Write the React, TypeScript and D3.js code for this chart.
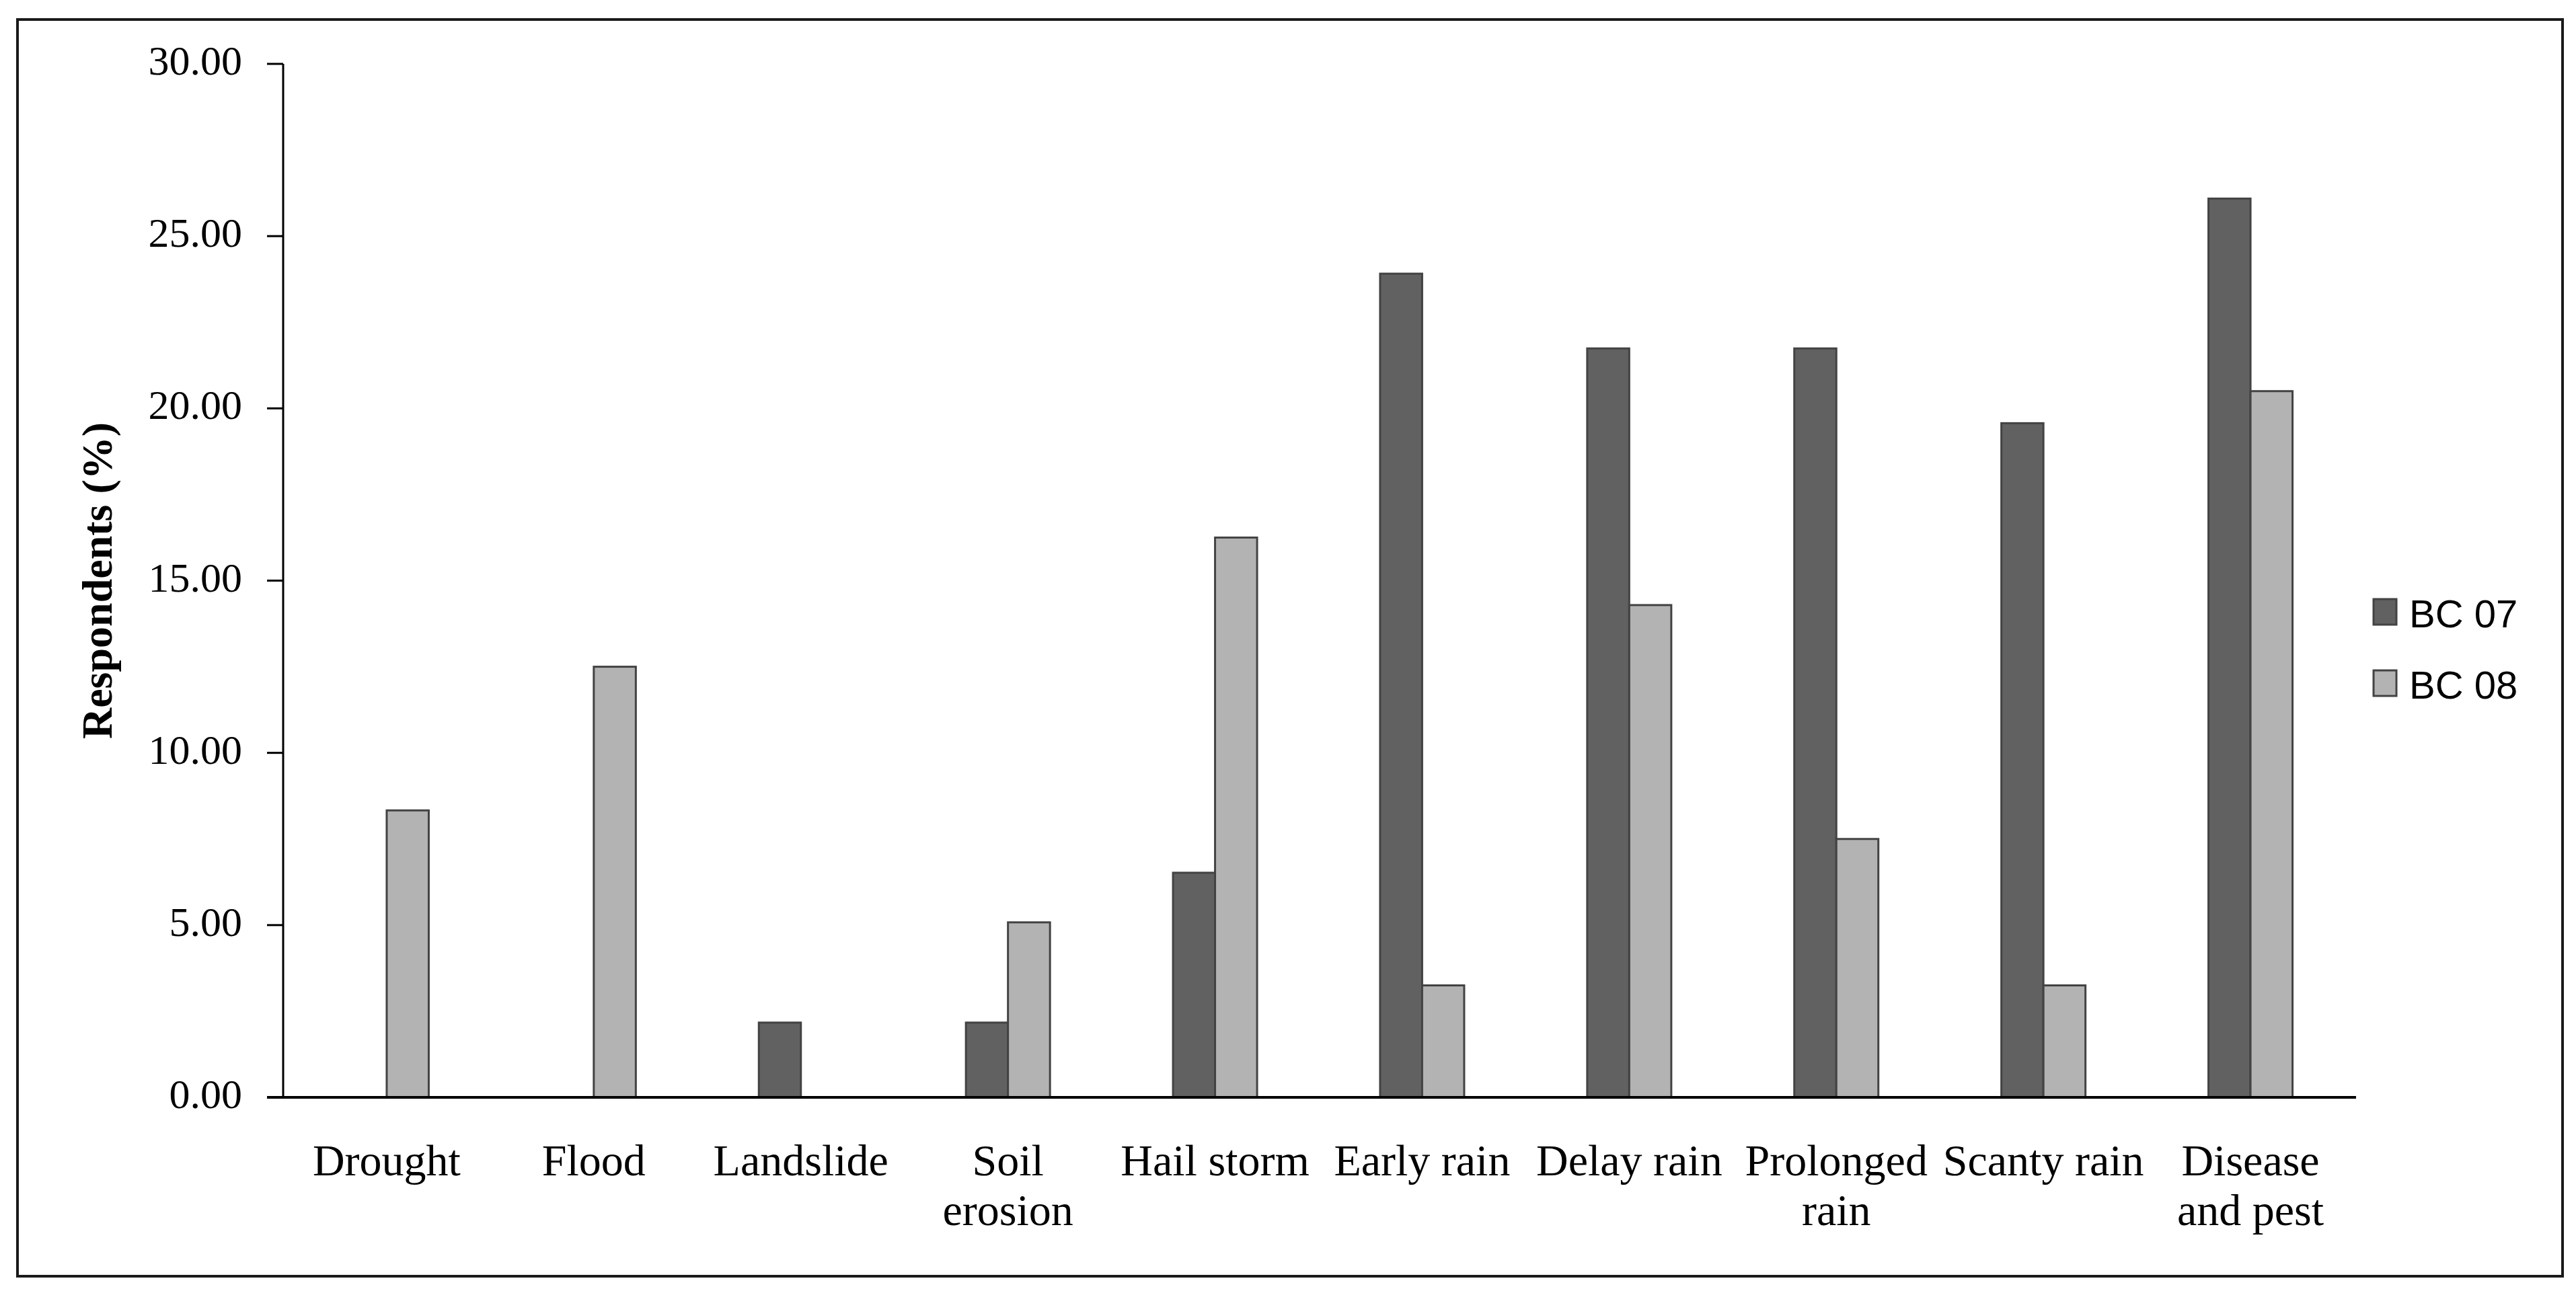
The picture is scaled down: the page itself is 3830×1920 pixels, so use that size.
import React from "react";
import * as d3 from "d3";

const categories = [
  ["Drought"],
  ["Flood"],
  ["Landslide"],
  ["Soil", "erosion"],
  ["Hail storm"],
  ["Early rain"],
  ["Delay rain"],
  ["Prolonged", "rain"],
  ["Scanty rain"],
  ["Disease", "and pest"],
];
const seriesNames = ["BC 07", "BC 08"];
const bc07 = [0, 0, 2.17, 2.17, 6.52, 23.91, 21.74, 21.74, 19.57, 26.09];
const bc08 = [8.33, 12.5, 0, 5.08, 16.25, 3.25, 14.29, 7.5, 3.25, 20.5];
const yTicks = [0, 5, 10, 15, 20, 25, 30];

const W = 3830;
const H = 1920;
const serif = "'Liberation Serif', 'Times New Roman', serif";
const sans = "'Liberation Sans', Arial, sans-serif";

export default function App() {
  const keys = categories.map((c) => c.join(" "));
  const x = d3.scaleBand<string>().domain(keys).range([421, 3500]).padding(0);
  const y = d3.scaleLinear().domain([0, 30]).range([1632, 95]);
  const bw = x.bandwidth() * 0.203;
  const colors = ["#616161", "#b3b3b3"];
  const series = [bc07, bc08];

  return (
    <svg
      width={W}
      height={H}
      viewBox={`0 0 ${W} ${H}`}
      style={{ position: "absolute", left: 0, top: 0, background: "#fff" }}
    >
      <rect x={0} y={0} width={W} height={H} fill="#fff" />
      <rect x={26} y={29} width={3784} height={1869} fill="none" stroke="#1a1a1a" strokeWidth={4} />

      {/* bars */}
      {series.map((vals, si) =>
        vals.map((v, i) => {
          if (v <= 0) return null;
          const cx = (x(keys[i]) as number) + x.bandwidth() / 2;
          const x0 = si === 0 ? cx - bw : cx;
          return (
            <rect
              key={`${si}-${i}`}
              x={x0}
              y={y(v)}
              width={bw}
              height={y(0) - y(v)}
              fill={colors[si]}
              stroke="#434343"
              strokeWidth={3}
            />
          );
        })
      )}

      {/* y axis */}
      <line x1={421} x2={421} y1={y(30)} y2={y(0)} stroke="#000" strokeWidth={3} />
      {yTicks.map((t) => (
        <g key={t}>
          <line x1={397} x2={421} y1={y(t)} y2={y(t)} stroke="#000" strokeWidth={3} />
          <text
            x={360}
            y={y(t) + 16}
            textAnchor="end"
            fontFamily={serif}
            fontSize={62}
            fill="#000"
          >
            {t.toFixed(2)}
          </text>
        </g>
      ))}
      {/* x axis */}
      <line x1={397} x2={3503} y1={y(0)} y2={y(0)} stroke="#000" strokeWidth={4} />

      {/* x labels */}
      {categories.map((lines, i) => {
        const cx = (x(keys[i]) as number) + x.bandwidth() / 2;
        return (
          <text key={i} textAnchor="middle" fontFamily={serif} fontSize={66} fill="#000">
            {lines.map((l, j) => (
              <tspan key={j} x={cx} y={1748 + j * 74}>
                {l}
              </tspan>
            ))}
          </text>
        );
      })}

      {/* y title */}
      <text
        transform={`translate(166, ${(y(0) + y(30)) / 2}) rotate(-90)`}
        textAnchor="middle"
        fontFamily={serif}
        fontWeight="bold"
        fontSize={64}
        fill="#000"
      >
        Respondents (%)
      </text>

      {/* legend */}
      {seriesNames.map((name, i) => (
        <g key={name}>
          <rect
            x={3529}
            y={891 + i * 106}
            width={34}
            height={38}
            fill={colors[i]}
            stroke="#434343"
            strokeWidth={3}
          />
          <text x={3582} y={933 + i * 106} fontFamily={sans} fontSize={58} fill="#000">
            {name}
          </text>
        </g>
      ))}
    </svg>
  );
}
